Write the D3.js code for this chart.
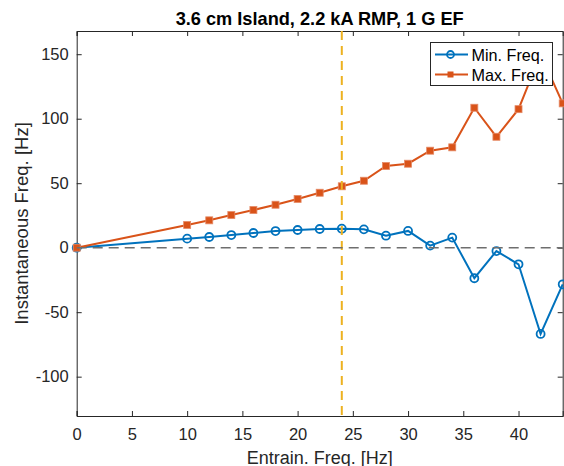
<!DOCTYPE html>
<html>
<head>
<meta charset="utf-8">
<script src="https://cdn.jsdelivr.net/npm/d3@7"></script>
<style>
  body { margin: 0; background: #fff; }
  text { font-family: "Liberation Sans", Arial, sans-serif; }
</style>
</head>
<body>
<svg id="chart" width="564" height="466"></svg>
<script>
// data
var entrainFreq = [0, 10, 12, 14, 16, 18, 20, 22, 24, 26, 28, 30, 32, 34, 36, 38, 40, 42, 44];
var minFreq = [0, 7.0, 8.3, 9.8, 11.4, 12.9, 13.7, 14.5, 14.7, 14.2, 9.3, 13.0, 1.6, 7.8, -23.7, -2.6, -12.9, -66.9, -28.4];
var maxFreq = [0, 17.6, 21.2, 25.3, 29.2, 33.3, 37.8, 42.6, 47.6, 51.9, 63.3, 65.1, 75.2, 77.8, 108.5, 86.0, 107.4, 150, 111.9];
var xTicks = [0, 5, 10, 15, 20, 25, 30, 35, 40];
var yTicks = [-100, -50, 0, 50, 100, 150];
var refX = 24;
var seriesNames = ["Min. Freq.", "Max. Freq."];

var svg = d3.select("#chart");
var margin = {left: 76.7, right: 1.3, top: 31, bottom: 50};
var W = 564, H = 466;

var x = d3.scaleLinear().domain([0, 44]).range([margin.left, W - margin.right]);
var y = d3.scaleLinear().domain([-130.5, 168]).range([H - margin.bottom, margin.top]);

var axisColor = "#262626";
var blue = "#0072BD", orange = "#D95319", yellow = "#EDB120";
var fmt = function(d) { return String(d); }; // plain hyphen minus, like matlab

// axes
var gx = svg.append("g").attr("transform", "translate(0," + y.range()[0] + ")")
    .call(d3.axisBottom(x).tickValues(xTicks).tickSize(-5).tickPadding(12).tickFormat(fmt));
var gxTop = svg.append("g").attr("transform", "translate(0," + y.range()[1] + ")")
    .call(d3.axisTop(x).tickValues(xTicks).tickSize(-5).tickFormat(""));
var gy = svg.append("g").attr("transform", "translate(" + x.range()[0] + ",0)")
    .call(d3.axisLeft(y).tickValues(yTicks).tickSize(-5).tickPadding(8).tickFormat(fmt));
var gyRight = svg.append("g").attr("transform", "translate(" + x.range()[1] + ",0)")
    .call(d3.axisRight(y).tickValues(yTicks).tickSize(-5).tickFormat(""));

[gx, gxTop, gy, gyRight].forEach(function(g) {
    g.select(".domain").attr("stroke", axisColor).attr("stroke-width", 1);
    g.selectAll(".tick line").attr("stroke", axisColor).attr("stroke-width", 1);
    g.selectAll(".tick text").attr("fill", axisColor).style("font-size", "16.5px")
        .style("font-family", '"Liberation Sans", Arial, sans-serif');
});

// series
var line = d3.line().x(function(d) { return x(d[0]); }).y(function(d) { return y(d[1]); });
var minPts = entrainFreq.map(function(f, i) { return [f, minFreq[i]]; });
var maxPts = entrainFreq.map(function(f, i) { return [f, maxFreq[i]]; });

svg.append("path").datum(minPts).attr("d", line)
    .attr("fill", "none").attr("stroke", blue).attr("stroke-width", 2);
svg.append("g").selectAll("circle").data(minPts).join("circle")
    .attr("cx", function(d) { return x(d[0]); }).attr("cy", function(d) { return y(d[1]); })
    .attr("r", 4).attr("fill", "none").attr("stroke", blue).attr("stroke-width", 1.8);

svg.append("path").datum(maxPts).attr("d", line)
    .attr("fill", "none").attr("stroke", orange).attr("stroke-width", 2);
svg.append("g").selectAll("rect").data(maxPts).join("rect")
    .attr("x", function(d) { return x(d[0]) - 3.5; }).attr("y", function(d) { return y(d[1]) - 3.5; })
    .attr("width", 7).attr("height", 7).attr("fill", orange).attr("stroke", "#e58a66").attr("stroke-width", 0.8);

// reference lines
svg.append("line")
    .attr("x1", x(refX)).attr("x2", x(refX)).attr("y1", y.range()[1]).attr("y2", y.range()[0])
    .attr("stroke", yellow).attr("stroke-width", 2).attr("stroke-dasharray", "9,6");
svg.append("line")
    .attr("x1", x.range()[0]).attr("x2", x.range()[1]).attr("y1", y(0)).attr("y2", y(0))
    .attr("stroke", "#6e6e6e").attr("stroke-width", 1.6).attr("stroke-dasharray", "10,6");

// title and labels
svg.append("text").attr("x", (x.range()[0] + x.range()[1]) / 2).attr("y", 25)
    .attr("text-anchor", "middle").style("font-size", "18.2px").style("font-weight", "bold")
    .attr("fill", "#000").text("3.6 cm Island, 2.2 kA RMP, 1 G EF");
svg.append("text").attr("x", (x.range()[0] + x.range()[1]) / 2).attr("y", 463.5)
    .attr("text-anchor", "middle").style("font-size", "18px").attr("fill", axisColor)
    .text("Entrain. Freq. [Hz]");
svg.append("text").attr("transform", "translate(28," + ((y.range()[0] + y.range()[1]) / 2) + ") rotate(-90)")
    .attr("text-anchor", "middle").style("font-size", "18.5px").attr("fill", axisColor)
    .text("Instantaneous Freq. [Hz]");

// legend
var lg = svg.append("g").attr("transform", "translate(430.5,42.5)");
lg.append("rect").attr("width", 122).attr("height", 43)
    .attr("fill", "#fff").attr("stroke", axisColor).attr("stroke-width", 1);
var colors = [blue, orange];
seriesNames.forEach(function(name, i) {
    var cy = 12 + i * 20;
    lg.append("line").attr("x1", 4.5).attr("x2", 37.5).attr("y1", cy).attr("y2", cy)
        .attr("stroke", colors[i]).attr("stroke-width", 2);
    if (i === 0) {
        lg.append("circle").attr("cx", 20).attr("cy", cy).attr("r", 3.5)
            .attr("fill", "none").attr("stroke", blue).attr("stroke-width", 1.8);
    } else {
        lg.append("rect").attr("x", 17).attr("y", cy - 3).attr("width", 6).attr("height", 6)
            .attr("fill", orange);
    }
    lg.append("text").attr("x", 41).attr("y", cy + 6).style("font-size", "16.2px")
        .attr("fill", "#000").text(name);
});
</script>
</body>
</html>
